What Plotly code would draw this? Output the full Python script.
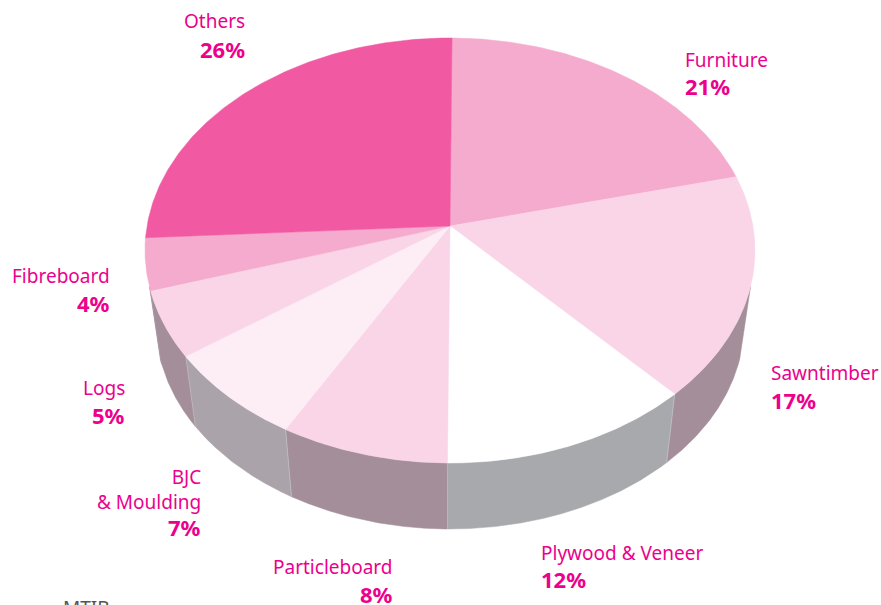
import numpy as np
import plotly.graph_objects as go

categories = ["Furniture", "Sawntimber", "Plywood & Veneer", "Particleboard",
              "BJC<br>& Moulding", "Logs", "Fibreboard", "Others"]
values = [21, 17, 12, 8, 7, 5, 4, 26]
top_colors = ["#F5ABCD", "#F9D5E7", "#FFFFFF", "#F9D5E7", "#FDEDF4", "#F9D5E7", "#F5ABCD", "#F15AA3"]
wall_colors = ["#A38E9A", "#A38E9A", "#A7A9AC", "#A38E9A", "#AAA3AA", "#A38E9A", "#A38E9A", "#A38E9A"]

# label anchor: x, y of name, y of percent, alignment
label_layout = [
    (685, 60, 86, "left"), (771, 373, 400, "left"), (541, 553, 579, "left"),
    (393, 567, 594, "right"), (201, 489, 527, "right"), (125, 388, 415, "right"),
    (110, 276, 303, "right"), (245, 21, 49, "right"),
]
INK = "#EC008C"
FONT = "Noto Sans"

# ---- perspective pie geometry
CX, CY, RX, RY = 450.0, 250.5, 305.0, 212.5      # rim ellipse of the top face
BX, BY, BRX, BRY = 450.0, 324.0, 294.0, 205.0    # rim ellipse of the bottom face
APEX = (450.0, 226.0)
A = 0.0577j   # perspective shift of the pie centre
ROTATION = 0.0012   # small clockwise start offset, as a share of the circle
SILHOUETTE = -0.17  # walls only exist below this sine of the rim parameter


def rim_angle(share):
    """Cumulative share (0..1, clockwise from 12 o'clock) -> parameter on the projected ellipse."""
    z = np.exp(1j * (np.pi / 2 - 2 * np.pi * (share + ROTATION)))
    return np.angle((z + A) / (1 + np.conj(A) * z))


def ring(t, cx, cy, rx, ry):
    return cx + rx * np.cos(t), cy - ry * np.sin(t)


total = sum(values)
cum = np.concatenate([[0], np.cumsum(values)]) / total
fig = go.Figure()
order = list(range(len(values)))

# front walls first; the silhouette is the straight edge where the visible wall starts
for i in order:
    t = rim_angle(np.linspace(cum[i], cum[i + 1], 400))
    t = t[np.sin(t) < SILHOUETTE]
    if len(t) < 2:
        continue
    x1, y1 = ring(t, CX, CY, RX, RY)
    x2, y2 = ring(t, BX, BY, BRX, BRY)
    fig.add_trace(go.Scatter(
        x=np.concatenate([x1, x2[::-1], x1[:1]]), y=np.concatenate([y1, y2[::-1], y1[:1]]),
        mode="lines", fill="toself", fillcolor=wall_colors[i],
        line=dict(color=wall_colors[i], width=0.5), hoverinfo="skip", showlegend=False))

# thin pale seams between front walls
for k in [2, 3, 4, 5]:
    t = rim_angle(cum[k])
    x1, y1 = ring(t, CX, CY, RX, RY)
    x2, y2 = ring(t, BX, BY, BRX, BRY)
    fig.add_trace(go.Scatter(x=[x1, x2], y=[y1, y2], mode="lines",
                             line=dict(color="#C9C6CB", width=0.6),
                             hoverinfo="skip", showlegend=False))

# top face
for i in order:
    t = rim_angle(np.linspace(cum[i], cum[i + 1], 160))
    x1, y1 = ring(t, CX, CY, RX, RY)
    fig.add_trace(go.Scatter(
        x=np.concatenate([[APEX[0]], x1, [APEX[0]]]), y=np.concatenate([[APEX[1]], y1, [APEX[1]]]),
        mode="lines", fill="toself", fillcolor=top_colors[i],
        line=dict(color=top_colors[i], width=0.5), name=categories[i].replace("<br>", " "),
        hoverinfo="name", showlegend=False))

for name, val, (x, yn, yp, al) in zip(categories, values, label_layout):
    fig.add_annotation(x=x, y=yn, text=name, showarrow=False, xanchor=al, yanchor="middle",
                       align=al, font=dict(family=FONT, size=19, color=INK),
                       borderpad=0, borderwidth=0)
    fig.add_annotation(x=x, y=yp, text=f"<b>{val}%</b>", showarrow=False, xanchor=al, yanchor="middle",
                       align=al, font=dict(family=FONT, size=22, color=INK),
                       borderpad=0, borderwidth=0)

fig.add_annotation(x=63, y=600, yshift=-8, text="MTIB", showarrow=False, xanchor="left", yanchor="middle",
                   font=dict(family=FONT, size=19, color="#555555"), borderpad=0, borderwidth=0)

fig.update_layout(
    width=881, height=605, margin=dict(l=0, r=0, t=0, b=0),
    paper_bgcolor="white", plot_bgcolor="white",
    xaxis=dict(range=[0, 881], visible=False, fixedrange=True),
    yaxis=dict(range=[605, 0], visible=False, fixedrange=True),
)
fig.write_html("out.html", config={"displayModeBar": False},
               post_script="document.body.style.margin='0';document.body.style.overflow='hidden';")
